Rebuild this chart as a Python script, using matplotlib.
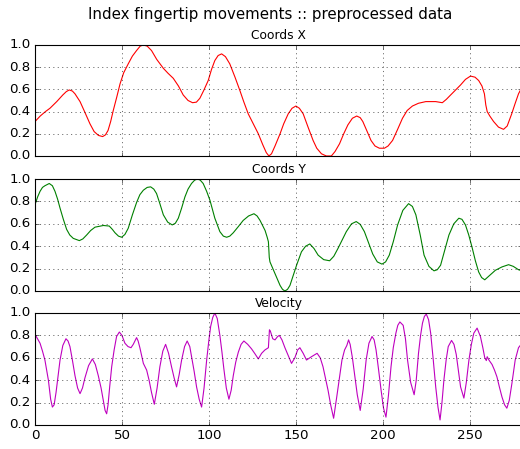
import matplotlib
matplotlib.use('Agg')
import matplotlib.pyplot as plt
import numpy as np

# values (sample index, normalised value)
coords_x_t = [0, 3, 6, 8.6, 12.5, 16, 18, 19.7, 21.5, 23, 25.9, 28.5, 31.6, 34, 36.5,
              38.9, 40.5, 42, 43.5, 45, 47, 48.9, 51, 53.6, 56, 58.4, 60.5, 62.3,
              64.5, 67, 70, 73.8, 76.5, 79.5, 82.5, 85.2, 88, 90.6, 92.8, 94.8, 97,
              99.6, 101.5, 103.4, 105.3, 107.3, 109.5, 112, 115, 117.8, 120, 122.6,
              125.5, 128.4, 131, 133, 134.5, 136, 138, 140.9, 143, 145.6, 147.8, 150,
              152, 154.2, 157, 159.9, 162, 164.7, 167.5, 170.4, 172.5, 175.1, 177.5,
              179.9, 182.5, 185, 187, 188.5, 191, 193.2, 195.5, 198, 200.9, 203,
              205.6, 208.5, 211.3, 214, 217, 220.5, 224.7, 230.4, 234.2, 236.5, 239,
              244.7, 247.5, 250.4, 253, 255.1, 257, 258.4, 259.2, 260, 261.5, 263.7,
              266.5, 269.4, 271.5, 274.1, 276, 278, 280]
coords_x = [0.31, 0.36, 0.40, 0.43, 0.49, 0.55, 0.58, 0.595, 0.585, 0.56, 0.49, 0.40,
            0.29, 0.22, 0.185, 0.175, 0.19, 0.23, 0.31, 0.41, 0.53, 0.65, 0.75, 0.83,
            0.90, 0.95, 0.99, 1.0, 0.99, 0.95, 0.87, 0.79, 0.745, 0.70, 0.63, 0.55,
            0.50, 0.48, 0.485, 0.52, 0.59, 0.68, 0.78, 0.86, 0.905, 0.92, 0.895, 0.83,
            0.71, 0.59, 0.49, 0.38, 0.29, 0.20, 0.10, 0.03, 0.0, 0.02, 0.09, 0.20,
            0.29, 0.38, 0.43, 0.45, 0.43, 0.38, 0.26, 0.14, 0.07, 0.02, 0.0, 0.0,
            0.04, 0.11, 0.20, 0.28, 0.34, 0.36, 0.345, 0.31, 0.22, 0.14, 0.09, 0.07,
            0.07, 0.09, 0.14, 0.24, 0.34, 0.41, 0.45, 0.475, 0.49, 0.49, 0.48, 0.51,
            0.55, 0.64, 0.69, 0.72, 0.71, 0.68, 0.63, 0.56, 0.46, 0.40, 0.36, 0.31,
            0.26, 0.24, 0.27, 0.38, 0.47, 0.56, 0.62]

coords_y_t = [0, 1.5, 2.9, 4.3, 5.7, 8.2, 10, 11.5, 13, 14.4, 16.3, 18.2, 20, 22, 25.5,
              27.5, 29.7, 32, 34.5, 39.3, 42.7, 44.5, 46, 48, 49.8, 51.7, 53.6, 56,
              58.4, 60.3, 62.3, 64.5, 66.5, 68.3, 69.9, 71.8, 73.8, 76.3, 78.9, 80.7,
              82.4, 84.3, 86.2, 88, 90, 91.8, 93.5, 95, 96.7, 98.7, 100.6, 103.4,
              106.3, 108.3, 110.2, 112, 114, 116.9, 119.7, 122.8, 125.9, 127.7, 129.4,
              131, 132.3, 133.5, 134.2, 134.7, 135.1, 136.5, 138, 140.9, 142.3, 143.7,
              145.2, 146.6, 148.5, 150.4, 153.2, 155.6, 158, 160.4, 162.8, 166, 169.4,
              171.8, 174.2, 176.6, 179, 182, 184.7, 187, 189.4, 191.8, 194.2, 196.8,
              199.5, 201.6, 203.7, 206, 208.5, 211.5, 214.8, 217, 219, 221.5, 223.7,
              226.5, 229.4, 231.3, 233.2, 235.5, 238, 240.8, 243.7, 245.5, 247.5,
              249.4, 251.3, 253.2, 255.1, 256.8, 258.6, 261.5, 264.7, 268.5, 272.3,
              275, 278, 280]
coords_y = [0.77, 0.84, 0.89, 0.925, 0.94, 0.96, 0.94, 0.89, 0.82, 0.74, 0.64, 0.55,
            0.50, 0.47, 0.45, 0.465, 0.50, 0.54, 0.57, 0.585, 0.58, 0.55, 0.52, 0.49,
            0.48, 0.505, 0.56, 0.68, 0.79, 0.86, 0.90, 0.925, 0.93, 0.91, 0.87, 0.78,
            0.68, 0.615, 0.59, 0.605, 0.65, 0.74, 0.84, 0.91, 0.96, 0.99, 1.0, 0.99,
            0.96, 0.89, 0.81, 0.65, 0.53, 0.49, 0.48, 0.49, 0.52, 0.575, 0.63, 0.67,
            0.69, 0.67, 0.63, 0.58, 0.54, 0.48, 0.44, 0.30, 0.26, 0.21, 0.155, 0.05,
            0.015, 0.0, 0.015, 0.05, 0.14, 0.23, 0.35, 0.40, 0.42, 0.38, 0.32, 0.28,
            0.27, 0.31, 0.38, 0.455, 0.53, 0.60, 0.62, 0.595, 0.53, 0.43, 0.33, 0.26,
            0.24, 0.26, 0.32, 0.44, 0.59, 0.72, 0.78, 0.755, 0.68, 0.50, 0.32, 0.22,
            0.18, 0.19, 0.23, 0.36, 0.50, 0.60, 0.65, 0.64, 0.59, 0.50, 0.39, 0.27,
            0.17, 0.12, 0.10, 0.14, 0.185, 0.215, 0.235, 0.22, 0.19, 0.18]

velocity_t = [0, 2.9, 4.3, 5.7, 7.7, 9, 10, 11, 12.1, 13.2, 14.4, 16, 17.8, 19, 20.1,
              21.5, 23, 24.5, 25.9, 27.3, 28.7, 30.8, 33, 34.7, 36.4, 38, 39.3, 40.3,
              41.2, 42, 43, 44.1, 45.5, 46.9, 48.5, 50, 51.7, 53.5, 55.2, 56.5, 58.4,
              59.3, 60.3, 62.3, 64.2, 65.6, 67, 68.6, 70.2, 71.8, 73.5, 75.1, 76.8,
              78.5, 80, 81.4, 82.9, 84.3, 86, 87.5, 89, 90, 91.5, 92.9, 94.4, 95.8,
              97.2, 98.7, 100, 101, 102.2, 103.4, 104.8, 106.3, 107.5, 108.6, 110,
              111.5, 112.8, 114, 115.4, 116.9, 118.5, 120.1, 122.3, 124.5, 126.5,
              128.4, 130.3, 132.2, 134.2, 134.8, 135.3, 136.7, 138, 139.5, 140.5, 142,
              143.7, 145.6, 147.5, 149.4, 151, 152.3, 154.2, 156.1, 159, 162.2, 164,
              165.6, 168.5, 170, 171.7, 173.4, 175.1, 176.5, 178, 179.3, 180.3, 181.2,
              182.5, 183.7, 185.3, 187, 188.7, 190.4, 192, 193.8, 195, 196.1, 197.5,
              199, 200.4, 201.8, 203.2, 204.7, 206, 207.5, 208.6, 209.8, 211.7, 213,
              214.2, 216, 218, 219.2, 220.5, 221.7, 222.8, 223.9, 225, 226.3, 227.5,
              229, 230.4, 231.7, 232.9, 234, 235.1, 236.4, 237.6, 239.5, 240.9, 242.2,
              243.5, 244.7, 246.6, 248, 249.5, 250.9, 252.3, 254.2, 256.1, 257.5,
              258.6, 259.5, 260, 261, 262.8, 264.2, 265.6, 267, 268.5, 270, 271.3,
              272.7, 274.2, 275.2, 276.1, 278, 280]
velocity = [0.81, 0.73, 0.66, 0.58, 0.40, 0.23, 0.16, 0.18, 0.29, 0.43, 0.58, 0.71,
            0.77, 0.75, 0.70, 0.58, 0.44, 0.33, 0.28, 0.33, 0.42, 0.53, 0.59, 0.54,
            0.44, 0.33, 0.22, 0.13, 0.10, 0.18, 0.35, 0.52, 0.67, 0.79, 0.83, 0.80,
            0.73, 0.70, 0.69, 0.72, 0.78, 0.75, 0.69, 0.55, 0.49, 0.40, 0.29, 0.185,
            0.33, 0.52, 0.66, 0.72, 0.64, 0.52, 0.42, 0.34, 0.45, 0.58, 0.70, 0.75,
            0.70, 0.61, 0.48, 0.34, 0.23, 0.16, 0.33, 0.58, 0.76, 0.88, 0.96, 1.0,
            0.95, 0.80, 0.65, 0.50, 0.33, 0.23, 0.31, 0.44, 0.56, 0.65, 0.72, 0.75,
            0.72, 0.68, 0.635, 0.59, 0.64, 0.67, 0.69, 0.85, 0.84, 0.77, 0.76, 0.79,
            0.80, 0.76, 0.69, 0.62, 0.55, 0.60, 0.67, 0.69, 0.64, 0.58, 0.61, 0.64,
            0.60, 0.52, 0.31, 0.18, 0.06, 0.24, 0.43, 0.58, 0.67, 0.71, 0.76, 0.72,
            0.60, 0.46, 0.27, 0.13, 0.32, 0.58, 0.73, 0.79, 0.76, 0.67, 0.50, 0.31,
            0.15, 0.07, 0.26, 0.52, 0.69, 0.82, 0.89, 0.92, 0.89, 0.77, 0.58, 0.38,
            0.27, 0.40, 0.64, 0.80, 0.91, 0.97, 0.99, 0.94, 0.82, 0.58, 0.34, 0.16,
            0.045, 0.20, 0.40, 0.58, 0.70, 0.755, 0.72, 0.63, 0.48, 0.34, 0.24, 0.38,
            0.58, 0.72, 0.82, 0.865, 0.79, 0.69, 0.60, 0.575, 0.61, 0.58, 0.54, 0.49,
            0.43, 0.34, 0.25, 0.18, 0.15, 0.22, 0.37, 0.48, 0.58, 0.69, 0.73]

panel_titles = ['Coords X', 'Coords Y', 'Velocity']
panel_colors = ['r', 'g', 'm']
suptitle = 'Index fingertip movements :: preprocessed data'

plt.style.use('classic')

fig = plt.figure(figsize=(6.5, 5.6125), dpi=80)
# the reference is cropped on the right, so its title sits right of centre
fig.suptitle(suptitle, fontsize=13.5, x=0.52, y=0.985)

# axes boxes measured in pixels (left, bottom, width, height) / figure size
boxes = [[0.0673, 0.6526, 0.9365, 0.2472],
         [0.0673, 0.3519, 0.9365, 0.2494],
         [0.0673, 0.0535, 0.9365, 0.2494]]

series = [(coords_x_t, coords_x), (coords_y_t, coords_y), (velocity_t, velocity)]

for i, (box, (t, v)) in enumerate(zip(boxes, series)):
    ax = fig.add_axes(box)
    ax.plot(t, v, color=panel_colors[i], linewidth=1.0)
    ax.set_xlim(0, 280)
    ax.set_ylim(0, 1)
    ax.set_yticks(np.arange(0, 1.01, 0.2))
    ax.set_xticks(np.arange(0, 251, 50))
    ax.grid(True)
    ax.set_title(panel_titles[i], fontsize=11)
    ax.tick_params(labelsize=12)
    if i < 2:
        ax.set_xticklabels([])

fig.savefig('out.png', dpi=80)
